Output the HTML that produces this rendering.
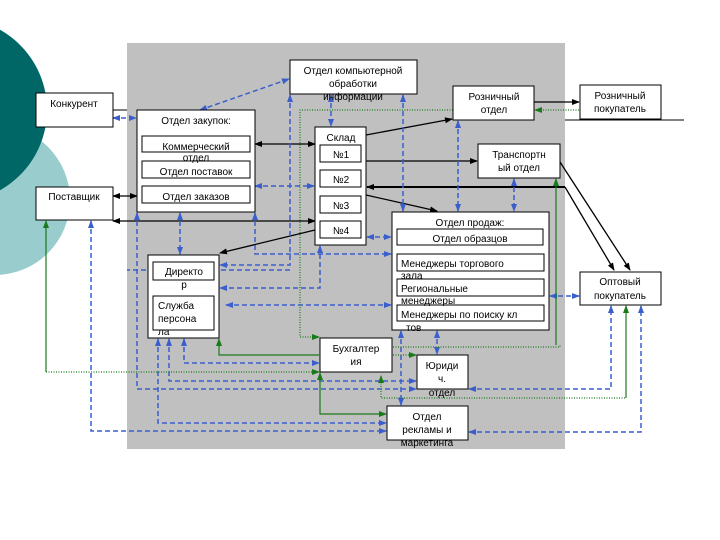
<!DOCTYPE html>
<html><head><meta charset="utf-8"><style>
html,body{margin:0;padding:0;background:#fff;}
svg{display:block;}
text{font-family:"Liberation Sans",sans-serif;font-size:10px;fill:#000;}
</style></head><body>
<svg width="720" height="540" viewBox="0 0 720 540" xmlns="http://www.w3.org/2000/svg">
<defs>
<marker id="ab" markerWidth="8" markerHeight="8" refX="7" refY="4" orient="auto-start-reverse" markerUnits="userSpaceOnUse"><path d="M0,1 L8,4 L0,7 z" fill="#000"/></marker>
<marker id="au" markerWidth="8" markerHeight="8" refX="7" refY="4" orient="auto-start-reverse" markerUnits="userSpaceOnUse"><path d="M0,1 L8,4 L0,7 z" fill="#3a5fcd"/></marker>
<marker id="ag" markerWidth="8" markerHeight="8" refX="7" refY="4" orient="auto-start-reverse" markerUnits="userSpaceOnUse"><path d="M0,1 L8,4 L0,7 z" fill="#1a7a1a"/></marker>
</defs>
<circle cx="-5" cy="200" r="75" fill="#99cccc"/>
<circle cx="-45" cy="110" r="92" fill="#006666"/>
<rect x="127" y="43" width="438" height="406" fill="#c0c0c0"/>
<line x1="565" y1="120" x2="684" y2="120" stroke="#000"/>

<g fill="none" stroke="#000" stroke-width="1.3">
<line x1="113" y1="196" x2="137" y2="196" marker-start="url(#ab)" marker-end="url(#ab)"/>
<line x1="113" y1="221" x2="315" y2="221" marker-start="url(#ab)" marker-end="url(#ab)"/>
<line x1="255" y1="144" x2="315" y2="144" marker-start="url(#ab)" marker-end="url(#ab)"/>
<line x1="315" y1="230" x2="220" y2="253" marker-end="url(#ab)"/>
<line x1="366" y1="135" x2="452" y2="119" marker-end="url(#ab)"/>
<line x1="366" y1="161" x2="477" y2="161" marker-end="url(#ab)"/>
<line x1="366" y1="195" x2="437" y2="211" marker-end="url(#ab)"/>
<line x1="534" y1="102" x2="579" y2="102" marker-end="url(#ab)"/>
<polyline points="565,187 367,187" stroke-width="2" marker-end="url(#ab)"/>
<polyline points="565,187 614,270" marker-end="url(#ab)"/>
<line x1="560" y1="162" x2="630" y2="270" marker-end="url(#ab)"/>
<line x1="113" y1="110" x2="127" y2="110" stroke-width="1"/>
</g>

<g fill="none" stroke="#3a5fcd" stroke-width="1.5" stroke-dasharray="5,3">
<line x1="113" y1="118" x2="136" y2="118" marker-start="url(#au)" marker-end="url(#au)"/>
<line x1="255" y1="186" x2="314" y2="186" marker-start="url(#au)" marker-end="url(#au)"/>
<line x1="200" y1="110" x2="289" y2="79" marker-start="url(#au)" marker-end="url(#au)"/>
<line x1="331" y1="95" x2="331" y2="126" marker-start="url(#au)" marker-end="url(#au)"/>
<polyline points="290,95 290,265 220,265" marker-start="url(#au)" marker-end="url(#au)"/>
<line x1="403" y1="95" x2="403" y2="211" marker-start="url(#au)" marker-end="url(#au)"/>
<line x1="458" y1="121" x2="458" y2="211" marker-start="url(#au)" marker-end="url(#au)"/>
<line x1="514" y1="179" x2="514" y2="211" marker-start="url(#au)" marker-end="url(#au)"/>
<line x1="367" y1="237" x2="391" y2="237" marker-start="url(#au)" marker-end="url(#au)"/>
<line x1="180" y1="213" x2="180" y2="254" marker-start="url(#au)" marker-end="url(#au)"/>
<polyline points="255,213 255,254 391,254" marker-start="url(#au)" marker-end="url(#au)"/>
<polyline points="320,246 320,288 220,288" marker-start="url(#au)" marker-end="url(#au)"/>
<polyline points="290,270 127,270"/>
<line x1="226" y1="305" x2="391" y2="305" marker-start="url(#au)" marker-end="url(#au)"/>
<line x1="550" y1="296" x2="579" y2="296" marker-start="url(#au)" marker-end="url(#au)"/>
<polyline points="91,221 91,431 386,431" marker-start="url(#au)" marker-end="url(#au)"/>
<polyline points="137,213 137,389 416,389" marker-start="url(#au)" marker-end="url(#au)"/>
<polyline points="158,339 158,423 386,423" marker-start="url(#au)" marker-end="url(#au)"/>
<polyline points="169,339 169,381 416,381" marker-start="url(#au)" marker-end="url(#au)"/>
<polyline points="184,339 184,363 319,363" marker-start="url(#au)" marker-end="url(#au)"/>
<line x1="401" y1="331" x2="401" y2="405" marker-start="url(#au)" marker-end="url(#au)"/>
<line x1="437" y1="331" x2="437" y2="354" marker-start="url(#au)" marker-end="url(#au)"/>
<polyline points="469,389 611,389 611,306" marker-start="url(#au)" marker-end="url(#au)"/>
<polyline points="469,432 641,432 641,306" marker-start="url(#au)" marker-end="url(#au)"/>
</g>

<g fill="none" stroke="#1a7a1a" stroke-width="1.2">
<polyline points="556,179 556,345" marker-start="url(#ag)"/>
<polyline points="219,339 219,355 319,355" marker-start="url(#ag)"/>
<polyline points="320,373 320,414 386,414" marker-start="url(#ag)" marker-end="url(#ag)"/>
<polyline points="626,306 626,398" marker-start="url(#ag)"/>
<line x1="46" y1="221" x2="46" y2="372" marker-start="url(#ag)"/>
</g>
<g fill="none" stroke="#1a7a1a" stroke-width="1.2" stroke-dasharray="1,1.5">
<line x1="579" y1="110" x2="535" y2="110" marker-end="url(#ag)"/>
<polyline points="453,110 300,110 300,337 319,337" marker-end="url(#ag)"/>
<polyline points="46,372 319,372" marker-end="url(#ag)"/>
<polyline points="393,347 560,347 560,345"/>
<line x1="393" y1="355" x2="416" y2="355" marker-end="url(#ag)"/>
<polyline points="381,376 381,398 626,398" marker-start="url(#ag)"/>
</g>

<g fill="#fff" stroke="#000" stroke-width="1">
<rect x="36" y="93" width="77" height="34"/>
<rect x="36" y="187" width="77" height="33"/>
<rect x="137" y="110" width="118" height="102"/>
<rect x="142" y="136" width="108" height="16"/>
<rect x="142" y="161" width="108" height="17"/>
<rect x="142" y="186" width="108" height="17"/>
<rect x="290" y="60" width="127" height="34"/>
<rect x="315" y="127" width="51" height="118"/>
<rect x="320" y="145" width="41" height="17"/>
<rect x="320" y="170" width="41" height="17"/>
<rect x="320" y="196" width="41" height="17"/>
<rect x="320" y="221" width="41" height="17"/>
<rect x="453" y="86" width="81" height="34"/>
<rect x="580" y="85" width="81" height="34"/>
<rect x="478" y="144" width="82" height="34"/>
<rect x="392" y="212" width="157" height="118"/>
<rect x="397" y="229" width="146" height="16"/>
<rect x="397" y="254" width="147" height="17"/>
<rect x="397" y="279" width="147" height="17"/>
<rect x="397" y="305" width="147" height="16"/>
<rect x="580" y="272" width="81" height="33"/>
<rect x="148" y="255" width="71" height="83"/>
<rect x="153" y="262" width="61" height="18"/>
<rect x="153" y="296" width="61" height="34"/>
<rect x="320" y="338" width="72" height="34"/>
<rect x="417" y="355" width="51" height="34"/>
<rect x="387" y="406" width="81" height="34"/>
</g>

<g text-anchor="middle">
<text x="74" y="107">Конкурент</text>
<text x="74" y="200">Поставщик</text>
<text x="196" y="124">Отдел закупок:</text>
<text x="196" y="150">Коммерческий</text>
<text x="196" y="161">отдел</text>
<text x="196" y="175">Отдел поставок</text>
<text x="196" y="200">Отдел заказов</text>
<text x="353" y="74">Отдел компьютерной</text>
<text x="353" y="87">обработки</text>
<text x="353" y="100">информации</text>
<text x="341" y="141">Склад</text>
<text x="341" y="158">№1</text>
<text x="341" y="183">№2</text>
<text x="341" y="209">№3</text>
<text x="341" y="234">№4</text>
<text x="494" y="100">Розничный</text>
<text x="494" y="113">отдел</text>
<text x="620" y="99">Розничный</text>
<text x="620" y="112">покупатель</text>
<text x="519" y="158">Транспортн</text>
<text x="519" y="171">ый отдел</text>
<text x="470" y="226">Отдел продаж:</text>
<text x="470" y="242">Отдел образцов</text>
<text x="620" y="285">Оптовый</text>
<text x="620" y="299">покупатель</text>
<text x="356" y="352">Бухгалтер</text>
<text x="356" y="365">ия</text>
<text x="442" y="369">Юриди</text>
<text x="442" y="382">ч.</text>
<text x="442" y="396">отдел</text>
<text x="427" y="420">Отдел</text>
<text x="427" y="433">рекламы и</text>
<text x="427" y="446">маркетинга</text>
<text x="184" y="275">Директо</text>
<text x="184" y="288">р</text>
</g>
<g>
<text x="401" y="267">Менеджеры торгового</text>
<text x="401" y="279">зала</text>
<text x="401" y="292">Региональные</text>
<text x="401" y="304">менеджеры</text>
<text x="401" y="318">Менеджеры по поиску  кл</text>
<text x="406" y="331">тов</text>
<text x="158" y="309">Служба</text>
<text x="158" y="322">персона</text>
<text x="158" y="335">ла</text>
</g>
</svg>
</body></html>
